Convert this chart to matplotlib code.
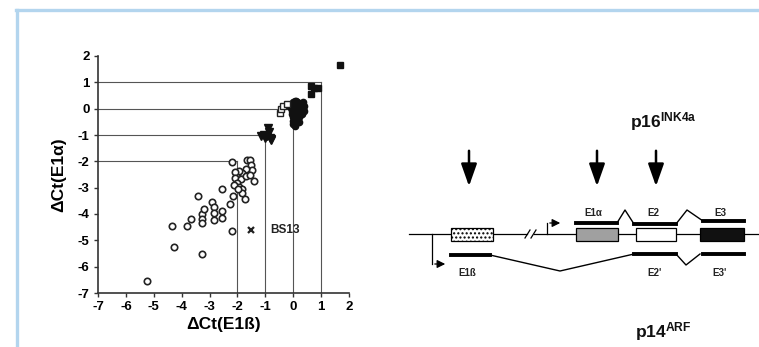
import matplotlib.pyplot as plt
from matplotlib.lines import Line2D
from matplotlib.patches import Rectangle

plt.rcParams['font.family'] = ['Liberation Sans', 'DejaVu Sans']
plt.rcParams['mathtext.fontset'] = 'custom'
plt.rcParams['mathtext.rm'] = 'Liberation Sans'
plt.rcParams['mathtext.bf'] = 'Liberation Sans:bold'

# scatter data: delta Ct(E1b) vs delta Ct(E1a)
circ_x = [-5.26, -4.27, -3.27, -4.35, -2.21, -3.81, -3.68, -3.43, -3.27, -3.27,
          -3.27, -3.2, -2.9, -2.85, -2.85, -2.85, -2.57, -2.56, -2.56, -2.28,
          -2.16, -2.19, -1.64, -1.56, -1.52, -1.47, -1.7, -1.83, -1.95, -2.09,
          -2.07, -1.88, -1.7, -1.56, -1.4, -2.01, -1.95, -1.83, -1.85, -1.73,
          -2.13, -1.98]
circ_y = [-6.53, -5.26, -5.51, -4.47, -4.65, -4.45, -4.2, -3.33, -4.0, -4.2,
          -4.35, -3.81, -3.56, -3.74, -3.97, -4.22, -3.05, -3.87, -4.14, -3.61,
          -3.33, -2.03, -1.94, -1.94, -2.13, -2.32, -2.29, -2.45, -2.38, -2.42,
          -2.64, -2.67, -2.57, -2.53, -2.74, -2.83, -2.98, -3.05, -3.2, -3.43,
          -2.89, -3.05]

dot_x = [0.0, 0.05, 0.1, 0.15, 0.2, 0.25, 0.3, 0.35, 0.0, 0.05, 0.1, 0.15,
         0.2, 0.25, 0.3, -0.05, 0.0, 0.05, 0.1, 0.15, 0.2, 0.25, 0.0, 0.05,
         0.1, 0.15, 0.3, 0.0, 0.05, -0.05, 0.35, 0.1, 0.4, 0.4, -0.1, 0.2]
dot_y = [0.25, 0.3, 0.3, 0.25, 0.2, 0.15, 0.1, 0.0, 0.0, 0.05, 0.1, 0.0,
         -0.05, -0.1, -0.2, -0.2, -0.3, -0.25, -0.2, -0.35, -0.3, -0.25, -0.45,
         -0.5, -0.4, -0.45, -0.05, -0.6, -0.65, -0.1, 0.25, -0.55, 0.1, -0.1,
         0.05, -0.5]

sq_x = [-0.48, -0.44, -0.35, -0.24]
sq_y = [-0.16, 0.0, 0.11, 0.18]

tri_x = [-1.15, -1.05, -1.0, -0.95, -0.9, -0.88, -0.85, -0.8, -0.78]
tri_y = [-1.05, -1.0, -1.1, -1.02, -0.75, -0.88, -1.1, -1.2, -1.15]

bsq_x = [0.64, 0.76, 0.88, 0.64, 1.66]
bsq_y = [0.85, 0.79, 0.79, 0.57, 1.67]

bs13 = (-1.52, -4.6)
guide_levels = [1, 0, -1, -2]
ticks = [-7, -6, -5, -4, -3, -2, -1, 0, 1, 2]

# gene diagram (pixel layout of the schematic)
exon_names = ['E1ß', 'E1α', 'E2', 'E3']
exon_start = [451, 576, 636, 700]
exon_end = [493, 618, 676, 744]
exon_color = ['white', '#a0a0a0', 'white', '#111111']
exon_hatch = ['....', None, None, None]
p16_names = ['E1α', 'E2', 'E3']
arf_names = ['E1ß', "E2'", "E3'"]
arrow_x = [469, 597, 656]

fig = plt.figure(figsize=(7.59, 3.47), dpi=100)

# light blue frame
fig.add_artist(Line2D([17 / 759, 17 / 759], [0, 1 - 9.5 / 347], color='#b3d5ee', lw=2.4))
fig.add_artist(Line2D([16 / 759, 1], [1 - 9.5 / 347, 1 - 9.5 / 347], color='#b3d5ee', lw=2.4))

ax = fig.add_axes([98 / 759, 1 - 293 / 347, 251 / 759, 237 / 347])
ax.set_xlim(-7, 2)
ax.set_ylim(-7, 2)
for s in ['top', 'right']:
    ax.spines[s].set_visible(False)
for s in ['left', 'bottom']:
    ax.spines[s].set_color('#333333')
    ax.spines[s].set_linewidth(1.2)

for lv in guide_levels:
    ax.plot([-7, lv], [lv, lv], color='#555555', lw=0.8, zorder=1)
    ax.plot([lv, lv], [-7, lv], color='#555555', lw=0.8, zorder=1)

ax.plot(circ_x, circ_y, 'o', mfc='white', mec='#222222', ms=4.6, mew=1.2, ls='none', zorder=3)
ax.plot(dot_x, dot_y, 'o', color='#111111', ms=4.5, ls='none', zorder=3)
ax.plot(sq_x, sq_y, 's', mfc='white', mec='#222222', ms=4.2, mew=1, ls='none', zorder=4)
ax.plot(tri_x, tri_y, 'v', color='#111111', ms=5.5, ls='none', zorder=3)
ax.plot(bsq_x, bsq_y, 's', color='#111111', ms=4.5, ls='none', zorder=3)
ax.plot(*bs13, marker='x', color='#222222', ms=5, mew=1.6, ls='none')
ax.text(bs13[0] + 0.68, bs13[1], 'BS13', fontsize=8.5, fontweight='bold', va='center', color='#222222')

ax.set_xticks(ticks)
ax.set_yticks(ticks)
ax.set_xticklabels([str(t) for t in ticks], fontsize=9.5, fontweight='bold')
ax.set_yticklabels([str(t) for t in ticks], fontsize=9.5, fontweight='bold')
ax.tick_params(length=3, width=1, color='#333333', pad=3)
ax.set_xlabel('ΔCt(E1ß)', fontsize=12.5, fontweight='bold', labelpad=3)
ax.set_ylabel('ΔCt(E1α)', fontsize=12.5, fontweight='bold', labelpad=8)

# schematic in pixel coordinates
dg = fig.add_axes([0, 0, 1, 1], zorder=-1)
dg.set_xlim(0, 759)
dg.set_ylim(347, 0)
dg.axis('off')

line_y = 234
dg.plot([409, 527], [line_y, line_y], color='black', lw=0.9)
dg.plot([534, 759], [line_y, line_y], color='black', lw=0.9)
dg.plot([525, 530], [line_y + 4, line_y - 4], color='black', lw=0.9)
dg.plot([531, 536], [line_y + 4, line_y - 4], color='black', lw=0.9)

for s, e, c, h in zip(exon_start, exon_end, exon_color, exon_hatch):
    dg.add_patch(Rectangle((s, line_y - 6.5), e - s, 13, facecolor=c, edgecolor='black',
                           lw=0.9, hatch=h, zorder=3))

# p16 transcript (above)
top_y = 223
dg.plot([exon_start[1], exon_end[1] - 1], [top_y, top_y], color='black', lw=2.8)
dg.plot([exon_end[1] - 1, 625, 634], [top_y, 210, top_y + 1], color='black', lw=1)
dg.plot([exon_start[2] - 2, exon_end[2]], [top_y + 1, top_y + 1], color='black', lw=2.8)
dg.plot([exon_end[2], 687, 703], [top_y + 1, 210, top_y - 2], color='black', lw=1)
dg.plot([exon_start[3] + 3, exon_end[3]], [top_y - 2, top_y - 2], color='black', lw=2.8)

# ARF transcript (below)
bot_y = 255
dg.plot([exon_start[0], exon_end[0] - 3], [bot_y, bot_y], color='black', lw=2.8)
dg.plot([exon_end[0] - 3, 560, 634], [bot_y, 271, bot_y - 1], color='black', lw=1)
dg.plot([exon_start[2] - 2, exon_end[2]], [bot_y - 1, bot_y - 1], color='black', lw=2.8)
dg.plot([exon_end[2], 686, 700], [bot_y - 1, 265, bot_y - 1], color='black', lw=1)
dg.plot([exon_start[3] + 3, exon_end[3]], [bot_y - 1, bot_y - 1], color='black', lw=2.8)

# promoters
dg.plot([547, 547], [line_y, 223], color='black', lw=0.9)
dg.annotate('', xy=(563, 223), xytext=(547, 223),
            arrowprops=dict(arrowstyle='-|>', color='black', lw=0.9, mutation_scale=12))
dg.plot([432, 432], [line_y, 264], color='black', lw=0.9)
dg.annotate('', xy=(448, 264), xytext=(432, 264),
            arrowprops=dict(arrowstyle='-|>', color='black', lw=0.9, mutation_scale=12))

# probe arrows
for ax_x in arrow_x:
    dg.annotate('', xy=(ax_x, 189), xytext=(ax_x, 148),
                arrowprops=dict(arrowstyle='-|>,head_width=0.3,head_length=0.85',
                                color='black', lw=1.8, mutation_scale=16))

for name, x in zip(p16_names, [593, 653, 720]):
    dg.text(x, 213, name, fontsize=7, fontweight='bold', ha='center', va='center', color='#222222')
for name, x in zip(arf_names, [467, 655, 720]):
    dg.text(x, 273, name, fontsize=7, fontweight='bold', ha='center', va='center', color='#222222')

dg.text(663, 122, r'$\mathbf{p16^{INK4a}}$', fontsize=12.5, ha='center', va='center', color='#111111')
dg.text(663, 332, r'$\mathbf{p14^{ARF}}$', fontsize=12.5, ha='center', va='center', color='#111111')

fig.savefig('out.png', dpi=100)
